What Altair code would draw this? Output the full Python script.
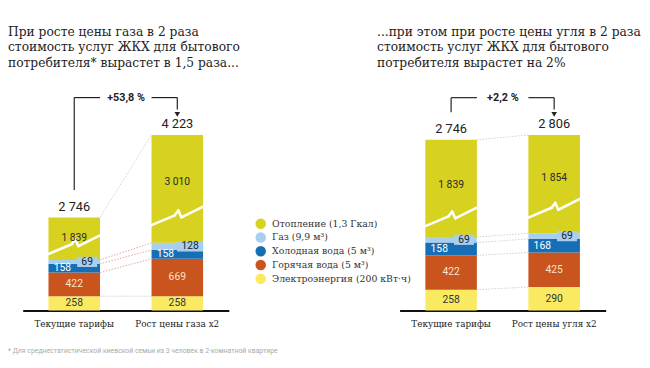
import altair as alt
import pandas as pd

# ---------------- data ----------------
series = ["Электроэнергия", "Горячая вода", "Холодная вода", "Газ", "Отопление"]  # bottom -> top
legend_labels = ["Электроэнергия (200 кВт·ч)", "Горячая вода (5 м³)", "Холодная вода (5 м³)",
                 "Газ (9,9 м³)", "Отопление (1,3 Гкал)"]
colors = ["#f9ea62", "#c9541d", "#166fb5", "#a8cff0", "#d7d11f"]
text_colors = ["#333333", "#fbe2cf", "#ffffff", "#222222", "#2a2a2a"]

left_cats = ["Текущие тарифы", "Рост цены газа x2"]
right_cats = ["Текущие тарифы", "Рост цены угля x2"]
current = [258, 422, 158, 69, 1839]
gas_x2 = [258, 669, 158, 128, 3010]
coal_x2 = [290, 425, 168, 69, 1854]
totals_left = [2746, 4223]
totals_right = [2746, 2806]
change_left = "+53,8 %"
change_right = "+2,2 %"

title_left = ["При росте цены газа в 2 раза", "стоимость услуг ЖКХ для бытового",
              "потребителя* вырастет в 1,5 раза..."]
title_right = ["...при этом при росте цены угля в 2 раза", "стоимость услуг ЖКХ для бытового",
               "потребителя вырастет на 2%"]
footnote = "* Для среднестатистической киевской семьи из 3 человек в 2-комнатной квартире"

SERIF = "DejaVu Serif"
NUM = "Roboto"
PLOT_W, PLOT_H = 210, 226

legend_order = legend_labels[::-1]
color_order = colors[::-1]

ZIG_FX = [0, 0.45, 0.52, 0.58, 1.0]
ZIG_RISE = [0, 10, 15, 8, 19]


def fmt(v):
    return f"{v:,}".replace(",", " ")


def panel(cats, vals_a, vals_b, totals, change, cut, ymax, zig_start, conn_colors,
          title, title_dx, show_legend):
    k = PLOT_H / ymax  # px per unit
    px = lambda p: p / k

    bars, labels, bubbles = [], [], []
    zig = [[] for _ in range(len(ZIG_FX) - 1)]
    tops = {}
    for ci, (cat, vals) in enumerate(zip(cats, [vals_a, vals_b])):
        base = 0
        bounds = []
        for si, (s, lab, v) in enumerate(zip(series, legend_labels, vals)):
            shown = v - cut if s == "Отопление" else v
            y0, y1 = base, base + shown
            bars.append(dict(cat=cat, series=lab, y0=y0, y1=y1))
            if s == "Отопление":
                zs = y0 + px(zig_start[ci])
                ly = (zs + y1) / 2 - px(2)
                for j in range(len(ZIG_FX) - 1):
                    zig[j].append(dict(cat=cat, y=zs + px(ZIG_RISE[j]), y2=zs + px(ZIG_RISE[j + 1])))
                xo = 0.5
            else:
                ly = (y0 + y1) / 2
                xo = {"Холодная вода": 0.27, "Газ": 0.75}.get(s, 0.5)
            labels.append(dict(cat=cat, xoff=xo, y=ly, text=fmt(v), tcolor=text_colors[si]))
            if s == "Газ":
                w = 8 + 6.2 * len(fmt(v))
                h = 5.2 / w * 2
                bubbles.append(dict(cat=cat, y=ly, size=w * w,
                                    shape=f"M-1,-{h:.3f}L1,-{h:.3f}L1,{h:.3f}L-1,{h:.3f}Z"))
            bounds.append(y1)
            base = y1
        tops[cat] = bounds
    conn = [dict(ca=cats[0], cb=cats[1], ya=tops[cats[0]][b], yb=tops[cats[1]][b], col=conn_colors[b])
            for b in range(5)]

    topA, topB = tops[cats[0]][-1], tops[cats[1]][-1]
    level = max(topA, topB) + px(38)
    a_start = topA + px(28)
    b_end = topB + px(26)
    verticals = [dict(cat=cats[0], y=a_start, y2=level), dict(cat=cats[1], y=level, y2=b_end)]
    hleft = [dict(cat=cats[0], y=level)]
    hright = [dict(cat=cats[1], y=level)]
    arrow = [dict(cat=cats[1], y=topB + px(21))]
    tot = [dict(cat=c, y=t, text=fmt(v)) for c, t, v in zip(cats, [topA, topB], totals)]
    chg = [dict(cat=cats[0], y=level, text=change)]

    xscale = alt.Scale(domain=cats, paddingInner=0.5, paddingOuter=0.25)
    xaxis = alt.Axis(title=None, labelAngle=0, ticks=False, domainColor="#111",
                     domainWidth=2, labelFont=SERIF, labelFontSize=9, labelColor="#222",
                     labelPadding=9, labelLimit=0, grid=False)

    def X(f="cat", bp=None):
        if bp is None:
            return alt.X(f"{f}:N", scale=xscale, axis=xaxis)
        return alt.X(f"{f}:N", scale=xscale, axis=xaxis, bandPosition=bp)

    def X2(f="cat", bp=0.5):
        return alt.X2(f"{f}:N", bandPosition=bp)

    ysc = alt.Scale(domain=[0, ymax], nice=False, zero=True)

    def Y(f):
        return alt.Y(f"{f}:Q", scale=ysc, axis=None)

    if show_legend:
        legend = alt.Legend(orient="none", legendX=237, legendY=132, title=None, symbolType="circle",
                            symbolSize=115, symbolStrokeWidth=0, labelFont=SERIF, labelFontSize=9.5,
                            labelColor="#333", rowPadding=3, labelOffset=6, padding=0, labelLimit=0)
    else:
        legend = None
    color = alt.Color("series:N", scale=alt.Scale(domain=legend_order, range=color_order), legend=legend)

    layers = []
    layers.append(alt.Chart(pd.DataFrame(bars)).mark_bar().encode(
        x=X(), y=Y("y1"), y2="y0", color=color))
    layers.append(alt.Chart(pd.DataFrame(conn)).mark_rule(strokeWidth=1, strokeDash=[1.5, 1.5]).encode(
        x=X("ca", 1.0), x2=X2("cb", 0.0), y=Y("ya"), y2="yb",
        stroke=alt.Stroke("col:N", scale=None)))
    for j in range(len(ZIG_FX) - 1):
        layers.append(alt.Chart(pd.DataFrame(zig[j])).mark_rule(
            color="white", strokeWidth=2.6, strokeCap="round").encode(
            x=X("cat", ZIG_FX[j]), x2=X2("cat", ZIG_FX[j + 1]), y=Y("y"), y2="y2"))
    layers.append(alt.Chart(pd.DataFrame(bubbles)).mark_point(filled=True, opacity=1, color="#a8cff0").encode(
        x=X("cat", 0.75), y=Y("y"), size=alt.Size("size:Q", scale=None),
        shape=alt.Shape("shape:N", scale=None)))
    ldf = pd.DataFrame(labels)
    for xo in sorted(ldf["xoff"].unique()):
        layers.append(alt.Chart(ldf[ldf["xoff"] == xo]).mark_text(
            font=NUM, fontSize=10.5, baseline="middle").encode(
            x=X("cat", float(xo)), y=Y("y"), text="text:N", color=alt.Color("tcolor:N", scale=None)))
    layers.append(alt.Chart(pd.DataFrame(tot)).mark_text(
        font=NUM, fontSize=13, dy=-11, color="#222", baseline="middle").encode(
        x=X("cat", 0.5), y=Y("y"), text="text:N"))
    layers.append(alt.Chart(pd.DataFrame(verticals)).mark_rule(color="#222", strokeWidth=1.2).encode(
        x=X("cat", 0.5), y=Y("y"), y2="y2"))
    layers.append(alt.Chart(pd.DataFrame(hleft)).mark_rule(color="#222", strokeWidth=1.2).encode(
        x=X("cat", 0.5), x2=X2("cat", 1.0), y=Y("y")))
    layers.append(alt.Chart(pd.DataFrame(hright)).mark_rule(color="#222", strokeWidth=1.2).encode(
        x=X("cat", 0.0), x2=X2("cat", 0.5), y=Y("y")))
    layers.append(alt.Chart(pd.DataFrame(arrow)).mark_point(
        shape="triangle-down", filled=True, size=32, color="#222", opacity=1).encode(
        x=X("cat", 0.5), y=Y("y")))
    layers.append(alt.Chart(pd.DataFrame(chg)).mark_text(
        font=NUM, fontSize=11, fontWeight="bold", color="#222", baseline="middle", dx=26.5).encode(
        x=X("cat", 1.0), y=Y("y"), text="text:N"))
    if show_legend:
        layers.append(alt.Chart(pd.DataFrame({"t": [footnote]})).mark_text(
            font=NUM, fontSize=7, color="#aaaaaa", align="left", baseline="middle").encode(
            x=alt.value(-15), y=alt.value(267), text="t:N"))

    return alt.layer(*layers).properties(
        width=PLOT_W, height=PLOT_H,
        title=alt.TitleParams(text=title, anchor="start", frame="group", dx=title_dx, font=SERIF,
                              fontSize=12.5, fontWeight="normal", lineHeight=15.5, color="#222",
                              offset=20))


left = panel(left_cats, current, gas_x2, totals_left, change_left, cut=1077, ymax=3972,
             zig_start=[6, 18],
             conn_colors=["#d9c8c8", "#e8a3a3", "#e8a3a3", "#e8a3a3", "#d0d0d0"],
             title=title_left, title_dx=-15, show_legend=True)
right = panel(right_cats, current, coal_x2, totals_right, change_right, cut=642, ymax=2733,
              zig_start=[11, 16],
              conn_colors=["#cfcfcf"] * 5,
              title=title_right, title_dx=-23, show_legend=False)

chart = alt.hconcat(left, right, spacing=174, bounds="flush").resolve_scale(color="independent").properties(
    padding={"left": 0, "top": 15, "right": 0, "bottom": 0}
).configure_view(stroke=None)

chart.save("out.html", embed_options={"renderer": "svg", "actions": False})
